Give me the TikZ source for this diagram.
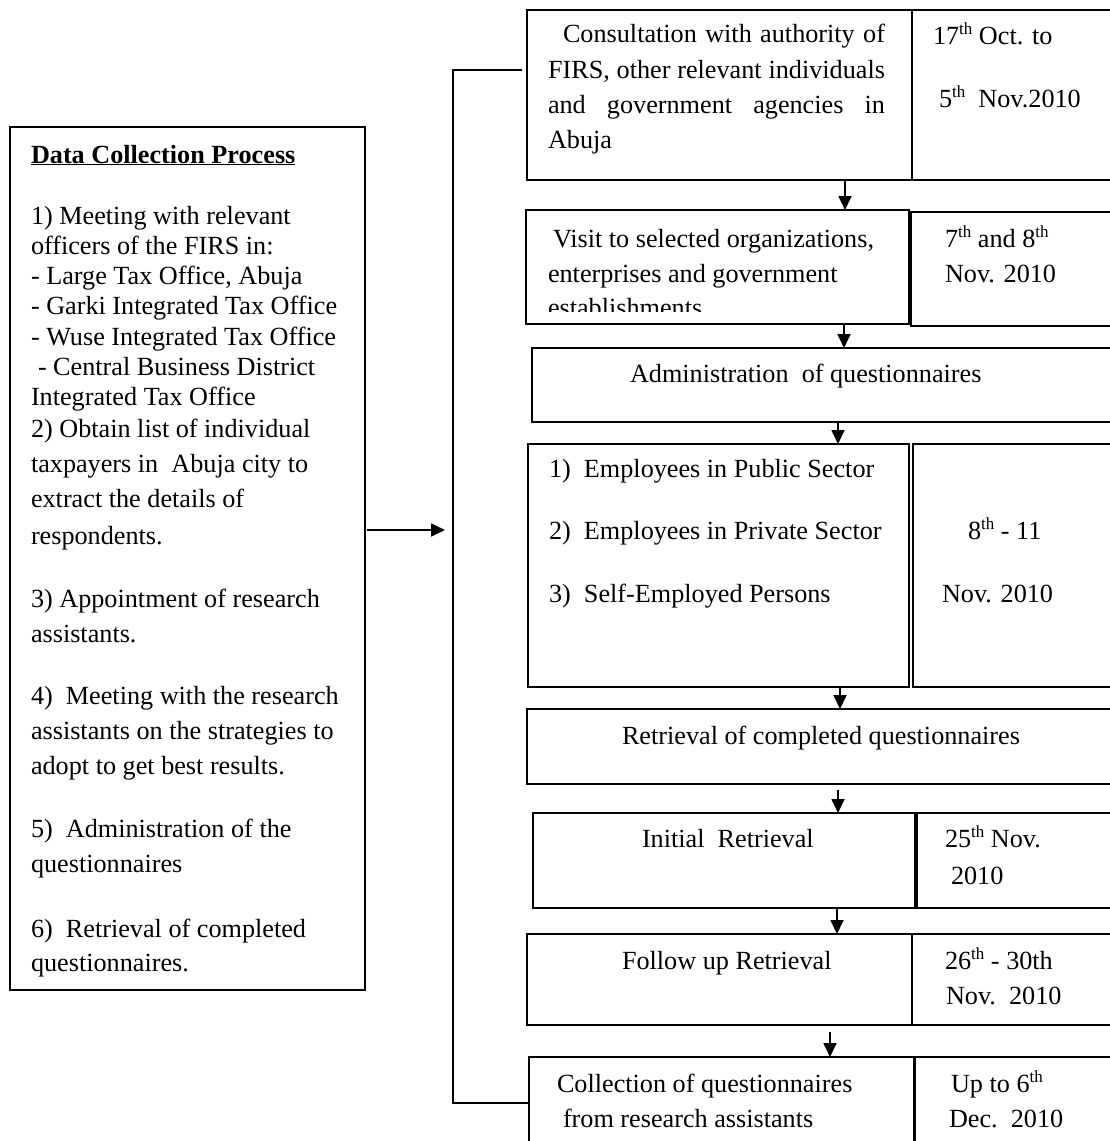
\documentclass[tikz,border=0pt]{standalone}
\usepackage{fontspec}
\setmainfont{Liberation Serif}
\usetikzlibrary{arrows.meta,calc}
% ordinal suffix set small and raised
\newcommand{\ordsup}[1]{\raisebox{0.36em}{\fontsize{17}{17}\selectfont #1}}
\begin{document}
\begin{tikzpicture}[x=1pt,y=-1pt,
  box/.style={draw,line width=1.5pt,inner sep=0pt,outer sep=0pt,rectangle},
  txt/.style={inner sep=0pt,outer sep=0pt,anchor=base west,font=\fontsize{26.2}{30}\selectfont},
  arr/.style={line width=1.7pt,-{Triangle[length=14pt,width=13pt]}},
  link/.style={line width=1.6pt}]
\useasboundingbox (0,0) rectangle (1110,1141);
\clip (0,0) rectangle (1110,1141);
\fill[white] (0,0) rectangle (1110,1141);

% ---------- left summary box ----------
\node[box,anchor=north west,minimum width=355pt,minimum height=863pt] (lb) at (10,127) {};
\node[txt] (ttl) at (31,163) {\textbf{\underline{Data Collection Process}}};
\foreach \yy/\tt [count=\i] in {
  224/{1) Meeting with relevant},
  254/{officers of the FIRS in:},
  284/{- Large Tax Office, Abuja},
  314/{- Garki Integrated Tax Office},
  345/{- Wuse Integrated Tax Office},
  375/{\hspace*{7pt}- Central Business District},
  405/{Integrated Tax Office},
  437/{2) Obtain list of individual},
  472/{taxpayers in~~Abuja city to},
  507/{extract the details of},
  544/{respondents.},
  607/{3) Appointment of research},
  642/{assistants.},
  704/{4)~~Meeting with the research},
  739/{assistants on the strategies to},
  774/{adopt to get best results.},
  837/{5)~~Administration of the},
  872/{questionnaires},
  937/{6)~~Retrieval of completed},
  971/{questionnaires.}}
  \node[txt] (L\i) at (31,\yy) {\tt};

% ---------- timeline rows ----------
\node[box,anchor=north west,minimum width=385pt,minimum height=170pt] (r1a) at (527,10) {};
\node[box,anchor=north west,minimum width=251pt,minimum height=170pt] (r1b) at (912,10) {};

\node[box,line width=2.6pt,anchor=north west,minimum width=383pt,minimum height=114pt] (r2a) at (526,210) {};
\node[box,anchor=north west,minimum width=251pt,minimum height=114pt] (r2b) at (911,212) {};

\node[box,anchor=north west,minimum width=612pt,minimum height=74pt] (r3) at (532,348) {};

\node[box,anchor=north west,minimum width=381pt,minimum height=243pt] (r4a) at (528,444) {};
\node[box,anchor=north west,minimum width=239pt,minimum height=243pt] (r4b) at (913,444) {};

\node[box,anchor=north west,minimum width=622pt,minimum height=75pt] (r5) at (527,709) {};

\node[box,anchor=north west,minimum width=382pt,minimum height=95pt] (r6a) at (533,813) {};
\node[box,anchor=north west,minimum width=224pt,minimum height=95pt] (r6b) at (917,813) {};

\node[box,anchor=north west,minimum width=385pt,minimum height=91pt] (r7a) at (527,934) {};
\node[box,anchor=north west,minimum width=221pt,minimum height=91pt] (r7b) at (912,934) {};

\node[box,anchor=north west,minimum width=385pt,minimum height=120pt] (r8a) at (529,1057) {};
\node[box,anchor=north west,minimum width=246pt,minimum height=120pt] (r8b) at (914,1057) {};
\draw[line width=3pt] (r8a.north east) -- (r8a.south east);

% ---------- row texts ----------
\node[txt] (t1a) at (563,42) {\makebox[322pt][s]{Consultation with authority of}};
\node[txt] (t1b) at (548,78) {\makebox[337pt][s]{FIRS, other relevant individuals}};
\node[txt] (t1c) at (548,113) {\makebox[337pt][s]{and government agencies in}};
\node[txt] (t1d) at (548,148) {Abuja};
\node[txt] (d1a) at (933,44) {17\ordsup{th} Oct. to};
\node[txt] (d1b) at (939,107) {5\ordsup{th}\ \ Nov.2010};

\begin{scope}
  \clip (r2a.north west) rectangle ([yshift=13pt]r2a.south east);
  \node[txt] (t2a) at (553,247) {Visit to selected organizations,};
  \node[txt] (t2b) at (548,282) {enterprises and government};
  \node[txt] (t2c) at (548,316) {establishments};
\end{scope}
\node[txt] (d2a) at (945,247) {7\ordsup{th} and 8\ordsup{th}};
\node[txt] (d2b) at (945,282) {Nov. 2010};

\node[txt] (t3) at (630,382) {Administration~~of questionnaires};

\node[txt] (t4a) at (549,477) {\makebox[35pt][l]{1)}Employees in Public Sector};
\node[txt] (t4b) at (549,539) {\makebox[35pt][l]{2)}Employees in Private Sector};
\node[txt] (t4c) at (549,602) {\makebox[35pt][l]{3)}Self-Employed Persons};
\node[txt] (d4a) at (968,539) {8\ordsup{th} - 11};
\node[txt] (d4b) at (942,602) {Nov. 2010};

\node[txt] (t5) at (622,744) {Retrieval of completed questionnaires};

\node[txt] (t6) at (642,847) {Initial~~Retrieval};
\node[txt] (d6a) at (945,847) {25\ordsup{th} Nov.};
\node[txt] (d6b) at (951,884) {2010};

\node[txt] (t7) at (622,969) {Follow up Retrieval};
\node[txt] (d7a) at (945,969) {26\ordsup{th} - 30th};
\node[txt] (d7b) at (946,1004) {Nov.~~2010};

\node[txt] (t8a) at (557,1092) {Collection of questionnaires};
\node[txt] (t8b) at (563,1127) {from research assistants};
\node[txt] (d8a) at (951,1092) {Up to 6\ordsup{th}};
\node[txt] (d8b) at (949,1127) {Dec.~~2010};

% ---------- arrows between rows ----------
\coordinate (s1) at ($(r1a.south west)!.5!(r1b.south east)$);
\draw[arr] (s1) -- (s1 |- r2a.north);
\coordinate (s2) at ($(r2a.south west)!.5!(r2b.south east)$);
\draw[arr] (s2) -- (s2 |- r3.north);
\draw[arr] (r3.south) -- (r3.south |- r4a.north);
\coordinate (s4) at ($(r4a.south west)!.5!(r4b.south east)$);
\draw[arr] (s4) -- (s4 |- r5.north);
\draw[arr] ([yshift=-6pt]r5.south) -- (r5.south |- r6a.north);
\coordinate (s6) at ($(r6a.south west)!.5!(r6b.south east)$);
\draw[arr] (s6) -- (s6 |- r7a.north);
\coordinate (s7) at ($(r7a.south west)!.5!(r7b.south east)$);
\draw[arr] ([yshift=-7pt]s7) -- (s7 |- r8a.north);

% ---------- bracket joining the summary to the timeline ----------
\coordinate (bx) at (453,0);
\coordinate (bt) at (522,70);
\coordinate (bb) at (r8a.west |- 0,1103);
\coordinate (ay) at (0,530);
\draw[link] (bt) -- (bt -| bx) -- (bb -| bx) -- (bb);
\draw[arr,shorten <=2pt,shorten >=8pt] (lb.east |- ay) -- (ay -| bx);
\end{tikzpicture}
\end{document}
